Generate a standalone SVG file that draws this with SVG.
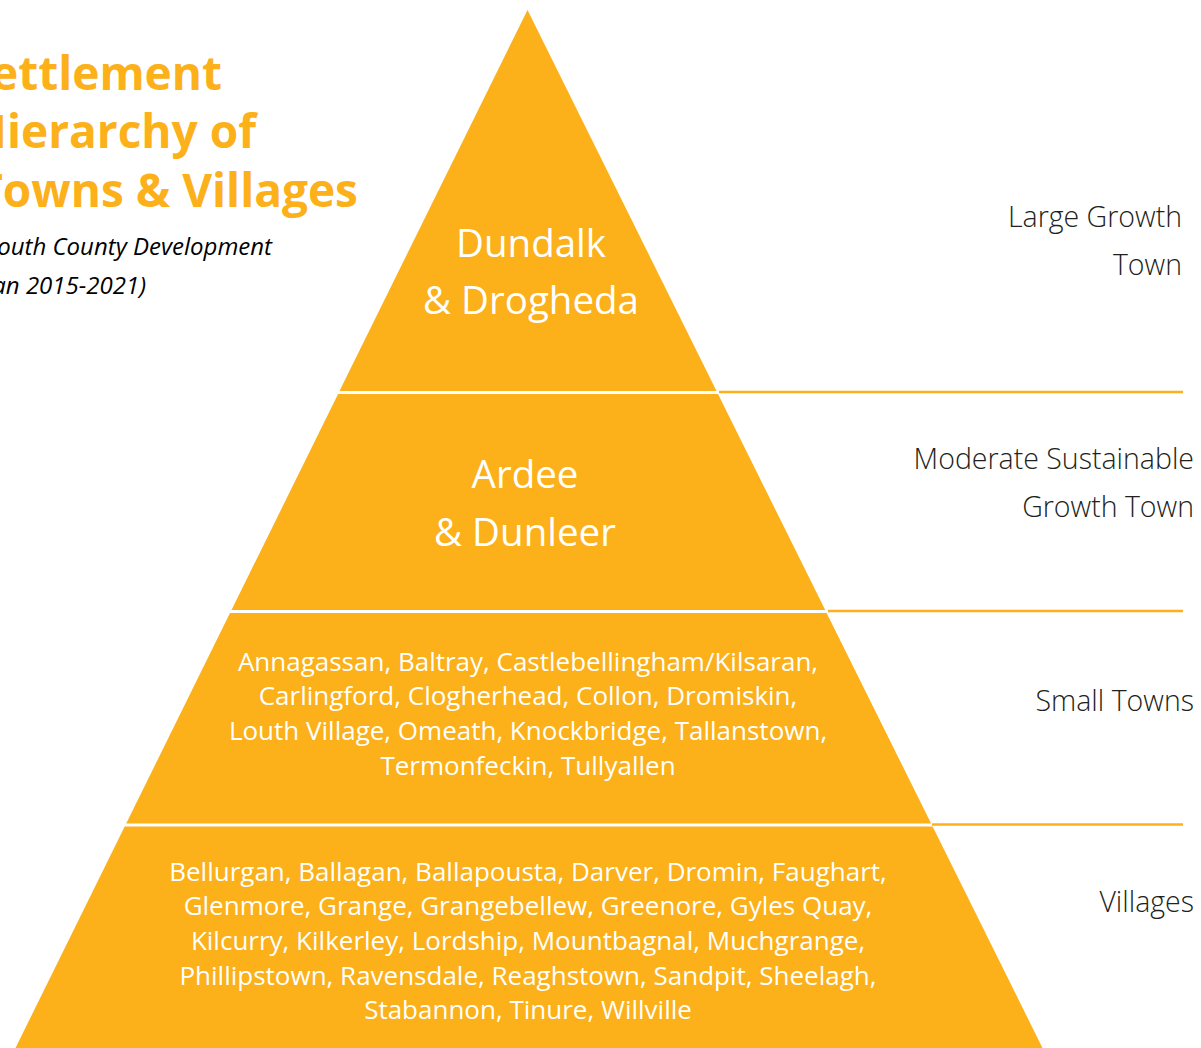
<svg xmlns="http://www.w3.org/2000/svg" width="1201" height="1048" viewBox="0 0 1201 1048">
<defs>
<style>
.tier{fill:#FCB019;}
.lbl{fill:#FFFFFF;font-family:"Open Sans","Noto Sans",sans-serif;text-anchor:middle;}
.big{font-size:38.5px;}
.small{font-size:26px;}
.side{fill:#231F20;font-family:"Open Sans","Noto Sans",sans-serif;font-weight:300;font-size:28.5px;text-anchor:end;}
.title{fill:#FCB019;font-family:"Open Sans","Noto Sans",sans-serif;font-weight:700;font-size:46px;text-anchor:end;}
.sub{fill:#000000;font-family:"Open Sans","Noto Sans",sans-serif;font-style:italic;font-size:24px;text-anchor:end;}
.conn{stroke:#FCB019;stroke-width:2.5;fill:none;}
</style>
</defs>
<rect width="1201" height="1048" fill="#FFFFFF"/>
<g id="title">
<text class="title" x="222" y="90">Settlement</text>
<text class="title" x="256" y="148">Hierarchy of</text>
<text class="title" x="358" y="207">Towns &amp; Villages</text>
<text class="sub" x="272" y="255">(Louth County Development</text>
<text class="sub" x="146" y="294">Plan 2015-2021)</text>
</g>
<g id="tier-large">
<polygon class="tier" points="527.5,10 716.5,391 339.5,391"/>
<text class="lbl big" x="531" y="257">Dundalk</text>
<text class="lbl big" x="531" y="314">&amp; Drogheda</text>
</g>
<g id="tier-moderate">
<polygon class="tier" points="338.1,394 718,394 825.2,610 231.5,610"/>
<text class="lbl big" x="525" y="488">Ardee</text>
<text class="lbl big" x="525" y="546">&amp; Dunleer</text>
</g>
<g id="tier-small">
<polygon class="tier" points="230,613 826.6,613 931.1,823.5 126.2,823.5"/>
<text class="lbl small" x="528" y="671">Annagassan, Baltray, Castlebellingham/Kilsaran,</text>
<text class="lbl small" x="528" y="705">Carlingford, Clogherhead, Collon, Dromiskin,</text>
<text class="lbl small" x="528" y="740">Louth Village, Omeath, Knockbridge, Tallanstown,</text>
<text class="lbl small" x="528" y="775">Termonfeckin, Tullyallen</text>
</g>
<g id="tier-villages">
<polygon class="tier" points="124.7,826.5 932.6,826.5 1042.5,1048 15.5,1048"/>
<text class="lbl small" x="528" y="881">Bellurgan, Ballagan, Ballapousta, Darver, Dromin, Faughart,</text>
<text class="lbl small" x="528" y="915">Glenmore, Grange, Grangebellew, Greenore, Gyles Quay,</text>
<text class="lbl small" x="528" y="950">Kilcurry, Kilkerley, Lordship, Mountbagnal, Muchgrange,</text>
<text class="lbl small" x="528" y="985">Phillipstown, Ravensdale, Reaghstown, Sandpit, Sheelagh,</text>
<text class="lbl small" x="528" y="1019">Stabannon, Tinure, Willville</text>
</g>
<g id="connectors">
<line class="conn" x1="719" y1="392" x2="1183" y2="392"/>
<line class="conn" x1="828" y1="611" x2="1183" y2="611"/>
<line class="conn" x1="932" y1="824.5" x2="1183" y2="824.5"/>
</g>
<g id="label-large">
<text class="side" x="1182" y="227">Large Growth</text>
<text class="side" x="1182" y="275">Town</text>
</g>
<g id="label-moderate">
<text class="side" x="1194" y="469">Moderate Sustainable</text>
<text class="side" x="1194" y="517">Growth Town</text>
</g>
<g id="label-small">
<text class="side" x="1194" y="711">Small Towns</text>
</g>
<g id="label-villages">
<text class="side" x="1194" y="912">Villages</text>
</g>
</svg>
